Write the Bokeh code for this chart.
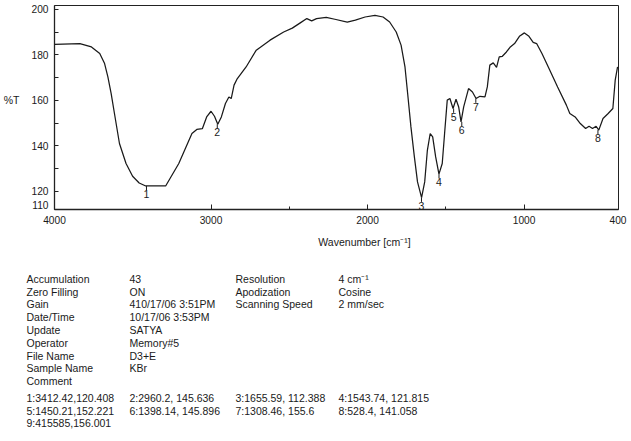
from bokeh.plotting import figure
from bokeh.models import Range1d, FixedTicker, LinearAxis
from bokeh.core.properties import value
from bokeh.embed import file_html
from bokeh.resources import INLINE

# ---- spectrum (wavenumber, %T) ----
wavenumber = [4000, 3838, 3764, 3711, 3680, 3659, 3638, 3617, 3585, 3543, 3501, 3459, 3417,
              3290, 3206, 3122, 3091, 3055, 3028, 3000, 2978, 2957, 2934, 2908, 2886, 2871,
              2853, 2832, 2776, 2711, 2623, 2536, 2481, 2430, 2388, 2357, 2326, 2264, 2202,
              2130, 2078, 2016, 1953, 1901, 1859, 1817, 1786, 1761, 1744, 1723, 1701, 1681,
              1655, 1635, 1618, 1600, 1584, 1565, 1544, 1523, 1508, 1491, 1474, 1454, 1435,
              1418, 1403, 1386, 1355, 1330, 1307, 1282, 1250, 1235, 1219, 1197, 1176, 1159,
              1139, 1113, 1088, 1061, 1030, 998, 969, 942, 920, 886, 841, 786, 730, 708, 674,
              641, 607, 585, 563, 540, 523, 496, 463, 433, 418, 403]
transmittance = [184.6, 185.0, 183.5, 180.6, 176.2, 170.3, 163.0, 154.2, 141.0, 132.2, 126.6,
                 123.6, 122.3, 122.3, 132.2, 145.4, 147.2, 147.6, 152.7, 155.2, 153.0, 149.5,
                 152.7, 158.6, 161.5, 160.8, 166.7, 169.6, 174.7, 182.1, 186.5, 190.1, 191.8,
                 194.1, 196.0, 195.0, 196.0, 196.5, 195.6, 194.4, 195.3, 196.7, 197.4, 196.7,
                 194.5, 190.1, 184.3, 174.7, 163.0, 148.3, 135.1, 124.1, 117.2, 124.1, 138.0,
                 145.4, 143.9, 135.1, 127.5, 132.2, 145.4, 160.1, 160.8, 156.4, 160.5, 157.1,
                 150.5, 157.1, 165.2, 163.7, 160.8, 161.8, 161.5, 165.9, 175.5, 176.5, 174.5,
                 179.1, 179.4, 181.3, 183.5, 185.0, 188.2, 189.7, 188.2, 185.5, 185.0, 180.6,
                 174.0, 165.9, 157.9, 154.2, 152.7, 149.8, 147.6, 148.6, 147.6, 148.6, 146.9,
                 152.0, 154.2, 156.4, 168.9, 174.7]

# ---- peak markers ----
peak_num = ["1", "2", "3", "4", "5", "6", "7", "8"]
peak_wn = [3412.42, 2960.2, 1655.59, 1543.74, 1450.21, 1398.14, 1308.46, 528.4]
peak_t = [122.3, 149.5, 117.2, 127.5, 156.4, 150.5, 160.8, 146.9]

# ---- axis ticks ----
x_major = [4000, 3000, 2000, 1000, 400]
x_minor = [2500, 1500]
y_labelled = [114, 120, 140, 160, 180, 200]     # 114 carries the "110" label at the axis foot
y_label_text = {114: "110"}
y_tickmarks = [120, 130, 140, 150, 160, 170, 180, 190, 200]

# ---- info block ----
info_rows = [
    ["Accumulation", "43", "Resolution", "4 cm\u207b\u00b9"],
    ["Zero Filling", "ON", "Apodization", "Cosine"],
    ["Gain", "410/17/06 3:51PM", "Scanning Speed", "2 mm/sec"],
    ["Date/Time", "10/17/06 3:53PM", "", ""],
    ["Update", "SATYA", "", ""],
    ["Operator", "Memory#5", "", ""],
    ["File Name", "D3+E", "", ""],
    ["Sample Name", "KBr", "", ""],
    ["Comment", "", "", ""],
]
peak_rows = [
    ["1:3412.42,120.408", "2:2960.2, 145.636", "3:1655.59, 112.388", "4:1543.74, 121.815"],
    ["5:1450.21,152.221", "6:1398.14, 145.896", "7:1308.46, 155.6", "8:528.4, 141.058"],
    ["9:415585,156.001", "", "", ""],
]

FONT = "Liberation Sans"
FS = "10.5px"
TFS = "10.2px"
INK = "#1a1a1a"

p = figure(width=631, height=232, x_range=Range1d(4000, 397), y_range=Range1d(111.94, 201.76),
           output_backend="svg", toolbar_location=None,
           min_border_left=54, min_border_right=13, min_border_top=5, min_border_bottom=23)
p.xgrid.visible = False
p.ygrid.visible = False
p.outline_line_color = "#222222"
p.outline_line_width = 1

p.line(wavenumber, transmittance, line_color=INK, line_width=1.25)

mark_len = 1.9
p.segment(x0=peak_wn, y0=peak_t, x1=peak_wn, y1=[t - mark_len for t in peak_t],
          line_color=INK, line_width=1)
p.text(x=peak_wn, y=peak_t, text=peak_num, text_align="center", text_baseline="top",
       y_offset=4, text_font=value(FONT), text_font_size=FS, text_color=INK)

xa = p.xaxis[0]
ya = p.yaxis[0]
xa.ticker = FixedTicker(ticks=x_major, minor_ticks=x_minor)
ya.ticker = FixedTicker(ticks=y_labelled, minor_ticks=y_tickmarks)
ya.major_label_overrides = y_label_text
for ax in (xa, ya):
    ax.axis_line_color = "#222222"
    ax.axis_line_width = 1.3
    ax.major_tick_line_color = "#222222"
    ax.minor_tick_line_color = "#222222"
    ax.major_tick_out = 0
    ax.minor_tick_out = 0
    ax.major_label_text_font = FONT
    ax.major_label_text_font_size = TFS
    ax.major_label_text_color = INK
    ax.major_label_standoff = 6
xa.major_tick_in = 5
xa.minor_tick_in = 3
ya.major_tick_line_color = None
ya.major_tick_in = 0
ya.minor_tick_in = 4

# outer left axis carrying only the "%T" caption beside the 160 level
ta = LinearAxis(ticker=FixedTicker(ticks=[160], minor_ticks=[]),
                major_label_overrides={160: "%T"},
                axis_line_color=None, major_tick_line_color=None, minor_tick_line_color=None,
                major_tick_in=0, major_tick_out=0, minor_tick_in=0, minor_tick_out=0,
                major_label_standoff=9, major_label_text_font=FONT,
                major_label_text_font_size=FS, major_label_text_color=INK)
p.add_layout(ta, "left")

# ---- text panel (separate root, below the chart) ----
q = figure(width=631, height=209, x_range=Range1d(0, 631), y_range=Range1d(209, 0),
           output_backend="svg", toolbar_location=None, x_axis_type=None, y_axis_type=None,
           min_border_left=0, min_border_right=0, min_border_top=0, min_border_bottom=0)
q.xgrid.visible = False
q.ygrid.visible = False
q.outline_line_color = None

col_x = [26, 129, 235, 338]
tx, ty, tt = [], [], []
for i, row in enumerate(info_rows):
    for j, s in enumerate(row):
        if s:
            tx.append(col_x[j]); ty.append(46.3 + 12.8 * i); tt.append(s)
for i, row in enumerate(peak_rows):
    for j, s in enumerate(row):
        if s:
            tx.append(col_x[j]); ty.append(165.3 + 12.7 * i); tt.append(s)
q.text(x=tx, y=ty, text=tt, text_align="left", text_baseline="middle",
       text_font=value(FONT), text_font_size=FS, text_color=INK)
q.text(x=[364], y=[9.7], text=["Wavenumber [cm\u207b\u00b9]"], text_align="center",
       text_baseline="middle", text_font=value(FONT), text_font_size=FS, text_color=INK)

open("out.html", "w").write(file_html([p, q], INLINE))
